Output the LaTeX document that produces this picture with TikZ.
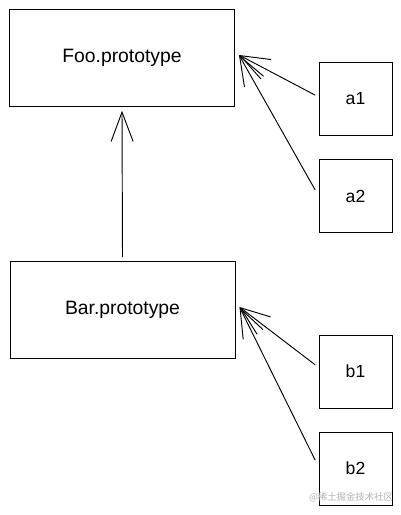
\documentclass[tikz,border=0pt]{standalone}
\usepackage{fontspec}
\setmainfont{Liberation Sans}
\newfontfamily\cjk{Noto Sans CJK SC}
\usetikzlibrary{arrows.meta}

\begin{document}
\begin{tikzpicture}[x=0.03cm, y=-0.03cm,
    bigbox/.style={draw, line width=0.8pt, minimum width=6.75cm, minimum height=2.9cm,
        font=\fontsize{16.5}{20}\selectfont},
    objbox/.style={draw, line width=0.8pt, minimum width=2.19cm, minimum height=2.19cm,
        font=\fontsize{15}{18}\selectfont},
    link/.style={line width=0.8pt, -{Straight Barb[length=0.88cm, width=0.66cm, line width=0.8pt]}}]
    \useasboundingbox (0,0) rectangle (401,515);

    % Prototypes
    \node[bigbox] (foo) at (122,58) {Foo.prototype};
    \node[bigbox] (bar) at (122.5,310) {Bar.prototype};

    % Instances
    \node[objbox] (a1) at (355.5,98.5) {a1};
    \node[objbox] (a2) at (355.5,196) {a2};
    \node[objbox] (b1) at (355.5,371.5) {b1};
    \node[objbox] (b2) at (355.5,468.5) {b2};

    \draw[link] ([yshift=0.12cm]bar.north) -- ([yshift=-0.12cm]foo.south);
    \draw[link] ([xshift=-0.1cm, yshift=0.1cm]a1.west) -- ([xshift=0.12cm, yshift=0.09cm]foo.east);
    \draw[link] ([xshift=-0.1cm, yshift=0.18cm]a2.west) -- ([xshift=0.12cm, yshift=0.09cm]foo.east);
    \draw[link] ([xshift=-0.1cm, yshift=0.2cm]b1.west) -- ([xshift=0.12cm, yshift=0.09cm]bar.east);
    \draw[link] ([xshift=-0.1cm, yshift=0.25cm]b2.west) -- ([xshift=0.12cm, yshift=0.09cm]bar.east);

    % watermark
    \node[text=black!30, font=\cjk\fontsize{8}{9}\selectfont] (mark) at (351,497) {@稀土掘金技术社区};
\end{tikzpicture}
\end{document}
